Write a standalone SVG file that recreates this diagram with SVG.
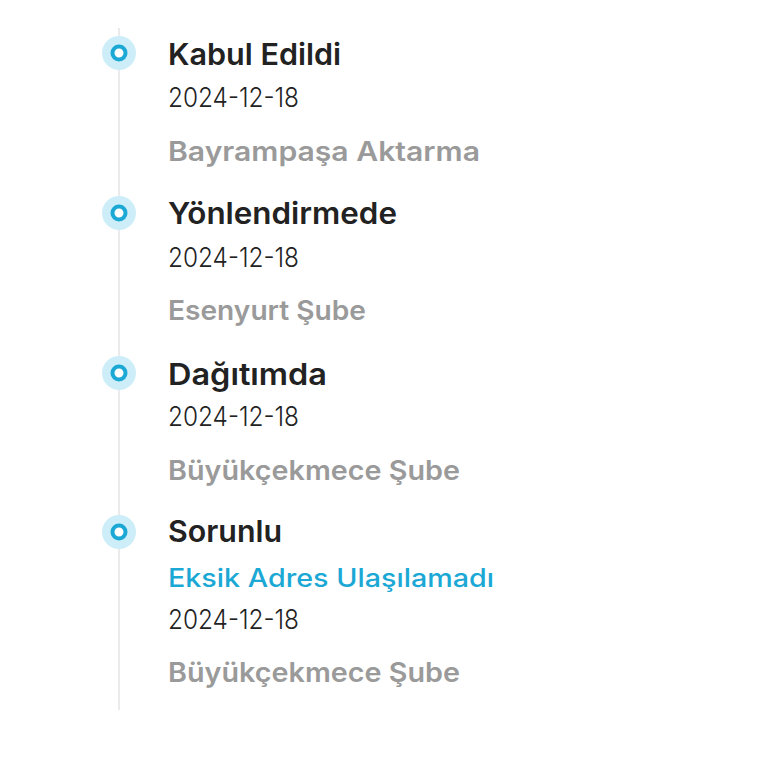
<svg xmlns="http://www.w3.org/2000/svg" width="768" height="768" viewBox="0 0 768 768">
<style>
.t{font-family:Inter,"Noto Sans",sans-serif;font-weight:600;font-size:30px;fill:#222}
.d{font-family:Inter,"Noto Sans",sans-serif;font-weight:300;font-size:26.5px;fill:#222}
.g{font-family:Inter,"Noto Sans",sans-serif;font-weight:600;font-size:27px;fill:#9a9a9a}
.b{font-family:Inter,"Noto Sans",sans-serif;font-weight:500;font-size:25.5px;fill:#1ba8d5}
.halo{fill:#cdeef8}
.ring{fill:#fff;stroke:#1ba8d5;stroke-width:4}
</style>
<rect width="768" height="768" fill="#fff"/>
<g id="connectors">
<line x1="119" y1="28" x2="119" y2="710" stroke="#ebebeb" stroke-width="2"/>
</g>
<g id="step1">
<circle class="halo" cx="119" cy="53" r="17"/>
<circle class="ring" cx="119" cy="53" r="6.5"/>
<text class="t" x="168" y="64.5" textLength="173" lengthAdjust="spacingAndGlyphs">Kabul Edildi</text>
<text class="d" x="168" y="107" textLength="131" lengthAdjust="spacingAndGlyphs">2024-12-18</text>
<text class="g" x="168" y="160.5" textLength="312" lengthAdjust="spacingAndGlyphs">Bayrampaşa Aktarma</text>
</g>
<g id="step2">
<circle class="halo" cx="119" cy="213" r="17"/>
<circle class="ring" cx="119" cy="213" r="6.5"/>
<text class="t" x="168" y="224" textLength="229" lengthAdjust="spacingAndGlyphs">Yönlendirmede</text>
<text class="d" x="168" y="267" textLength="131" lengthAdjust="spacingAndGlyphs">2024-12-18</text>
<text class="g" x="168" y="320" textLength="198" lengthAdjust="spacingAndGlyphs">Esenyurt Şube</text>
</g>
<g id="step3">
<circle class="halo" cx="119" cy="373" r="17"/>
<circle class="ring" cx="119" cy="373" r="6.5"/>
<text class="t" x="168" y="384.5" textLength="159" lengthAdjust="spacingAndGlyphs">Dağıtımda</text>
<text class="d" x="168" y="426" textLength="131" lengthAdjust="spacingAndGlyphs">2024-12-18</text>
<text class="g" x="168" y="480" textLength="292" lengthAdjust="spacingAndGlyphs">Büyükçekmece Şube</text>
</g>
<g id="step4">
<circle class="halo" cx="119" cy="532" r="17"/>
<circle class="ring" cx="119" cy="532" r="6.5"/>
<text class="t" x="168" y="542" textLength="114" lengthAdjust="spacingAndGlyphs">Sorunlu</text>
<text class="b" x="168" y="587" textLength="326" lengthAdjust="spacingAndGlyphs">Eksik Adres Ulaşılamadı</text>
<text class="d" x="168" y="629" textLength="131" lengthAdjust="spacingAndGlyphs">2024-12-18</text>
<text class="g" x="168" y="682" textLength="292" lengthAdjust="spacingAndGlyphs">Büyükçekmece Şube</text>
</g>
</svg>
